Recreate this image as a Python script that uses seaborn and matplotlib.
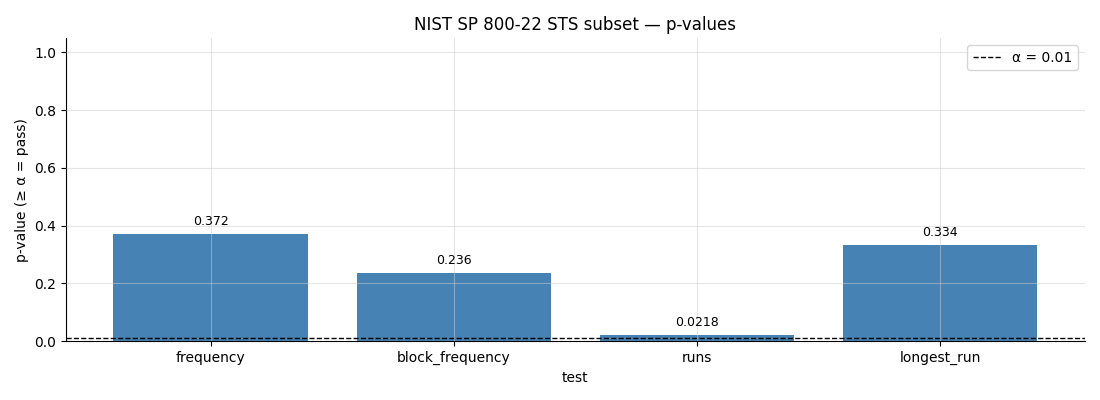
import matplotlib
matplotlib.use("Agg")
import matplotlib.pyplot as plt
import seaborn as sns
import pandas as pd

tests = ["frequency", "block_frequency", "runs", "longest_run"]
p_values = [0.372, 0.236, 0.0218, 0.334]
labels = ["0.372", "0.236", "0.0218", "0.334"]
alpha = 0.01

plt.rcParams['font.family'] = ['DejaVu Sans']

df = pd.DataFrame({"test": tests, "p": p_values})

fig, ax = plt.subplots(figsize=(11, 4), dpi=100)
fig.subplots_adjust(left=0.06, right=0.986, top=0.905, bottom=0.147)

sns.barplot(data=df, x="test", y="p", color="steelblue", saturation=1, width=0.8,
            linewidth=0, ax=ax)
ax.axhline(alpha, color="black", linestyle="--", linewidth=1, label="α = 0.01")

for i, (v, t) in enumerate(zip(p_values, labels)):
    ax.text(i, v + 0.021, t, ha="center", va="bottom", fontsize=9, color="black")

ax.set_ylim(0, 1.05)
ax.set_xlim(-0.595, 3.595)
ax.set_title("NIST SP 800-22 STS subset — p-values", fontsize=12, color="black")
ax.set_xlabel("test", fontsize=10, color="black")
ax.set_ylabel("p-value (≥ α = pass)", fontsize=10, color="black")
ax.tick_params(axis="both", labelsize=10, length=3.5, colors="black")
ax.set_axisbelow(False)
ax.grid(True, color="#cccccc", alpha=0.5, linewidth=0.8)
for s in ["top", "right"]:
    ax.spines[s].set_visible(False)
ax.legend(loc="upper right", fontsize=10, frameon=True)

fig.savefig("out.png", dpi=100)
